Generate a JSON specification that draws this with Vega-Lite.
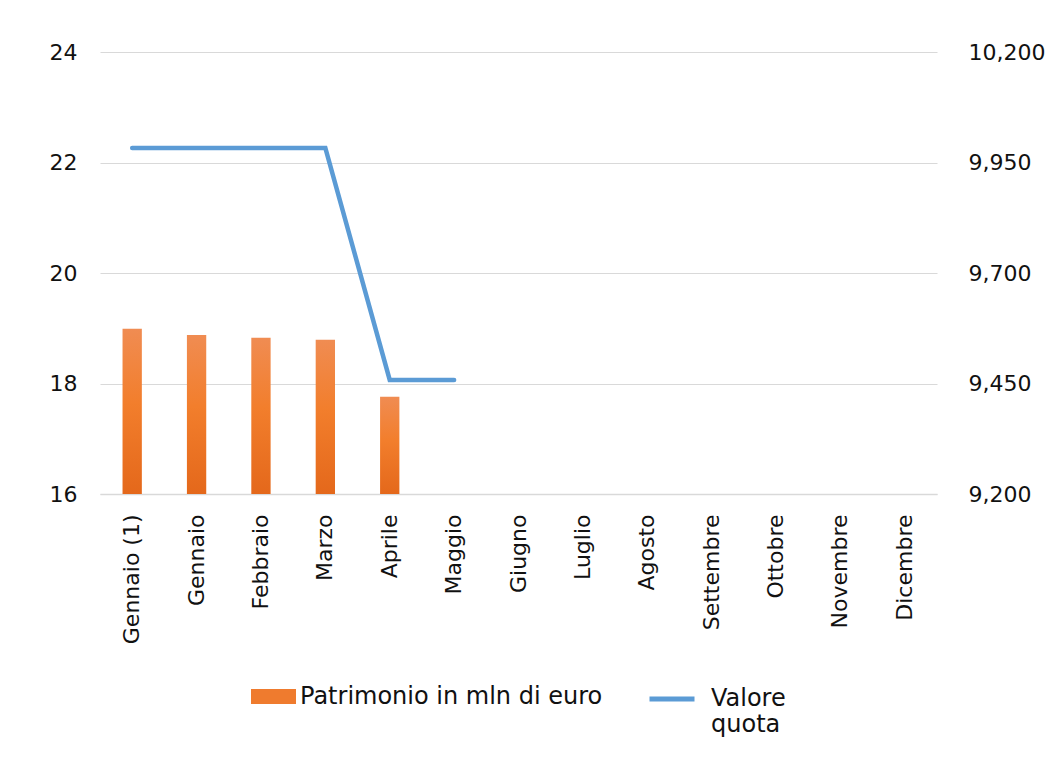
{
  "$schema": "https://vega.github.io/schema/vega-lite/v6.json",
  "width": 837,
  "height": 442,
  "autosize": {"type": "none"},
  "padding": {"left": 100, "top": 52, "right": 119, "bottom": 263},
  "background": "white",
  "config": {
    "font": "DejaVu Sans",
    "view": {"stroke": null},
    "axis": {"labelFont": "DejaVu Sans", "labelFontSize": 22, "labelColor": "#111", "ticks": false, "domain": false, "title": null},
    "legend": {"labelFont": "DejaVu Sans", "labelFontSize": 24, "labelColor": "#111", "title": null, "orient": "bottom", "direction": "horizontal", "labelLimit": 0, "offset": 30, "layout": {"bottom": {"anchor": "middle", "margin": 44}}}
  },
  "data": {
    "values": [
      {"mese": "Gennaio (1)", "patrimonio": 18.99, "quota": 9983},
      {"mese": "Gennaio", "patrimonio": 18.88, "quota": 9983},
      {"mese": "Febbraio", "patrimonio": 18.83, "quota": 9983},
      {"mese": "Marzo", "patrimonio": 18.79, "quota": 9983},
      {"mese": "Aprile", "patrimonio": 17.76, "quota": 9458},
      {"mese": "Maggio", "patrimonio": null, "quota": 9458},
      {"mese": "Giugno", "patrimonio": null, "quota": null},
      {"mese": "Luglio", "patrimonio": null, "quota": null},
      {"mese": "Agosto", "patrimonio": null, "quota": null},
      {"mese": "Settembre", "patrimonio": null, "quota": null},
      {"mese": "Ottobre", "patrimonio": null, "quota": null},
      {"mese": "Novembre", "patrimonio": null, "quota": null},
      {"mese": "Dicembre", "patrimonio": null, "quota": null}
    ]
  },
  "encoding": {
    "x": {
      "field": "mese",
      "type": "nominal",
      "sort": null,
      "scale": {"domain": ["Gennaio (1)", "Gennaio", "Febbraio", "Marzo", "Aprile", "Maggio", "Giugno", "Luglio", "Agosto", "Settembre", "Ottobre", "Novembre", "Dicembre"], "paddingInner": 0, "paddingOuter": 0},
      "axis": {"labelAngle": -90, "labelPadding": 20, "domain": true, "domainColor": "#D9D9D9", "domainWidth": 1.5, "labelAlign": "right", "labelBaseline": "middle"}
    }
  },
  "layer": [
    {
      "mark": {
        "type": "bar",
        "width": {"band": 0.3},
        "fill": {"gradient": "linear", "x1": 0, "y1": 0, "x2": 0, "y2": 1, "stops": [{"offset": 0, "color": "#F08C52"}, {"offset": 0.45, "color": "#F27E2C"}, {"offset": 1, "color": "#E4681B"}]}
      },
      "encoding": {
        "y": {
          "field": "patrimonio",
          "type": "quantitative",
          "scale": {"domain": [16, 24], "zero": false},
          "axis": {"values": [16, 18, 20, 22, 24], "grid": true, "gridColor": "#D9D9D9", "gridWidth": 1.2, "labelPadding": 23}
        },
        "y2": {"datum": 16}
      }
    },
    {
      "transform": [{"filter": "false"}],
      "mark": {"type": "bar", "width": {"band": 0.3}},
      "encoding": {
        "y": {"field": "patrimonio", "type": "quantitative", "scale": {"domain": [16, 24], "zero": false}, "axis": null},
        "y2": {"datum": 16},
        "fill": {
          "datum": "Patrimonio in mln di euro",
          "type": "nominal",
          "scale": {"range": ["#EF7B2E"]},
          "legend": {"symbolType": "M-1,-0.33H1V0.33H-1Z", "symbolSize": 2025, "symbolStrokeWidth": 0, "labelOffset": 4}
        }
      }
    },
    {
      "mark": {"type": "line", "color": "#5B9BD5", "strokeWidth": 4.5, "strokeCap": "round", "strokeJoin": "miter"},
      "encoding": {
        "y": {
          "field": "quota",
          "type": "quantitative",
          "scale": {"domain": [9200, 10200], "zero": false},
          "axis": {"orient": "right", "values": [9200, 9450, 9700, 9950, 10200], "format": ",.0f", "grid": false, "labelPadding": 31}
        },
        "stroke": {
          "datum": "Valore quota",
          "type": "nominal",
          "scale": {"range": ["#5B9BD5"]},
          "legend": {"symbolType": "stroke", "symbolSize": 2025, "symbolStrokeWidth": 5, "labelExpr": "['Valore', 'quota']", "labelOffset": 14}
        }
      }
    }
  ],
  "resolve": {"scale": {"y": "independent", "fill": "independent", "stroke": "independent"}}
}
